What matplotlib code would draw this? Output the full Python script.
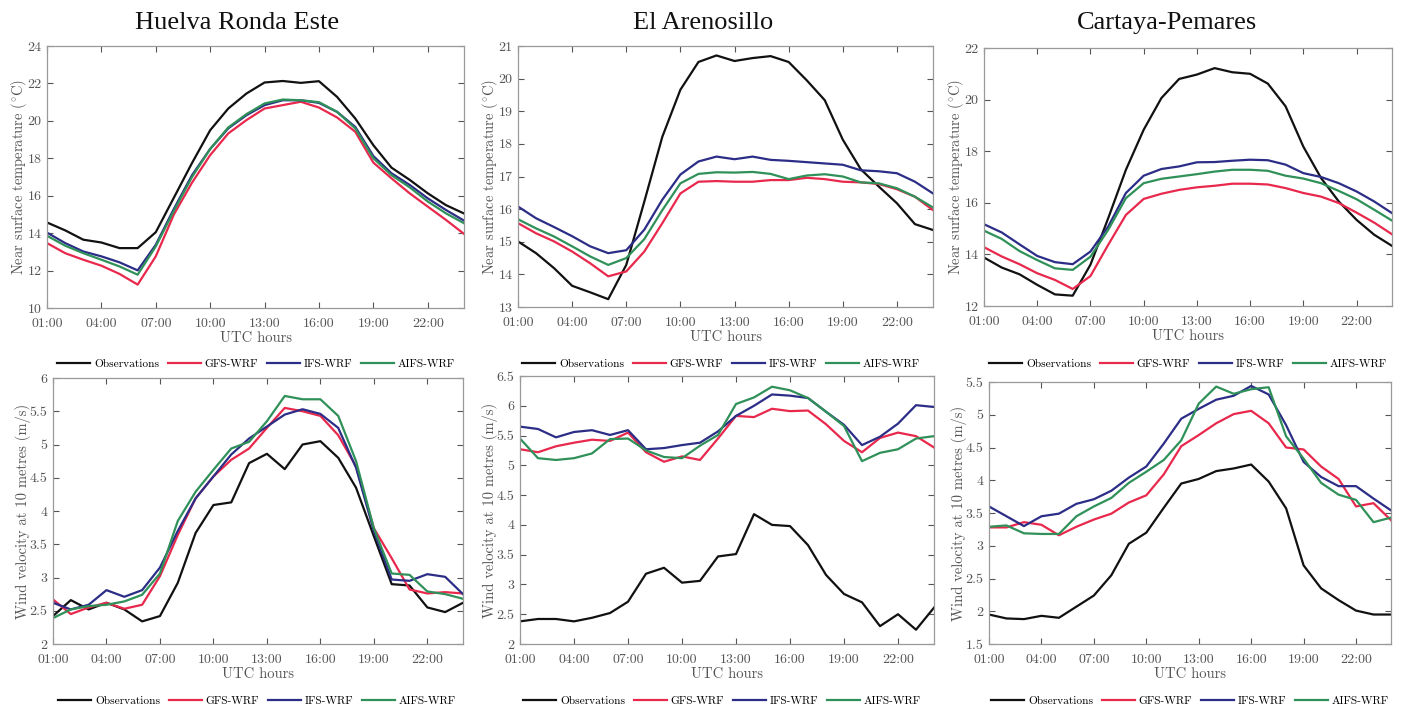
import matplotlib
matplotlib.use("Agg")
import matplotlib.pyplot as plt

plt.rcParams["font.family"] = "serif"
plt.rcParams["font.serif"] = ["cmr10"]
plt.rcParams["mathtext.fontset"] = "cm"
plt.rcParams["axes.formatter.use_mathtext"] = True

hours = list(range(1, 25))
xticks = [1, 4, 7, 10, 13, 16, 19, 22]
xticklabels = ["01:00", "04:00", "07:00", "10:00", "13:00", "16:00", "19:00", "22:00"]

stations = ["Huelva Ronda Este", "El Arenosillo", "Cartaya-Pemares"]
series_names = ["Observations", "GFS-WRF", "IFS-WRF", "AIFS-WRF"]

# near-surface temperature (degC), hourly 01:00-24:00
huelva_t_obs = [14.57, 14.15, 13.65, 13.5, 13.2, 13.2, 14.05, 15.9, 17.75, 19.5, 20.66, 21.46,
                22.05, 22.13, 22.03, 22.12, 21.28, 20.13, 18.7, 17.5, 16.85, 16.13, 15.5, 15.05]
huelva_t_gfs = [13.47, 12.93, 12.58, 12.26, 11.82, 11.25, 12.76, 15.0, 16.7, 18.17, 19.33, 20.04,
                20.66, 20.84, 21.02, 20.71, 20.18, 19.42, 17.77, 16.93, 16.13, 15.42, 14.71, 13.96]
huelva_t_ifs = [14.03, 13.47, 13.02, 12.76, 12.44, 12.01, 13.38, 15.3, 17.1, 18.5, 19.6, 20.3,
                20.84, 21.1, 21.1, 20.96, 20.48, 19.68, 18.12, 17.2, 16.58, 15.86, 15.24, 14.67]
huelva_t_aifs = [13.86, 13.33, 12.93, 12.58, 12.22, 11.78, 13.29, 15.2, 17.0, 18.5, 19.65, 20.36,
                 20.93, 21.14, 21.1, 21.0, 20.48, 19.6, 18.0, 17.1, 16.45, 15.69, 15.06, 14.53]

arenosillo_t_obs = [15.01, 14.65, 14.19, 13.65, 13.45, 13.24, 14.29, 16.23, 18.22, 19.66, 20.51, 20.71,
                    20.54, 20.63, 20.69, 20.51, 19.95, 19.34, 18.13, 17.22, 16.69, 16.18, 15.54, 15.36]
arenosillo_t_gfs = [15.57, 15.26, 15.01, 14.7, 14.34, 13.94, 14.09, 14.7, 15.57, 16.48, 16.84, 16.86,
                    16.84, 16.84, 16.89, 16.89, 16.96, 16.92, 16.84, 16.82, 16.77, 16.61, 16.38, 15.97]
arenosillo_t_ifs = [16.08, 15.72, 15.45, 15.17, 14.86, 14.65, 14.74, 15.37, 16.29, 17.06, 17.46, 17.61,
                    17.53, 17.61, 17.51, 17.48, 17.44, 17.4, 17.36, 17.19, 17.16, 17.1, 16.84, 16.48]
arenosillo_t_aifs = [15.69, 15.41, 15.16, 14.86, 14.55, 14.29, 14.5, 15.08, 15.97, 16.79, 17.08, 17.13,
                     17.12, 17.14, 17.08, 16.92, 17.03, 17.07, 17.0, 16.82, 16.79, 16.64, 16.38, 16.05]

cartaya_t_obs = [13.88, 13.49, 13.23, 12.82, 12.45, 12.4, 13.6, 15.4, 17.28, 18.83, 20.06, 20.8,
                 20.97, 21.22, 21.06, 21.0, 20.62, 19.74, 18.18, 16.96, 16.05, 15.34, 14.76, 14.33]
cartaya_t_gfs = [14.28, 13.92, 13.62, 13.27, 13.01, 12.66, 13.16, 14.37, 15.53, 16.15, 16.35, 16.5,
                 16.6, 16.66, 16.74, 16.74, 16.71, 16.57, 16.38, 16.24, 15.99, 15.62, 15.23, 14.78]
cartaya_t_ifs = [15.17, 14.85, 14.39, 13.94, 13.7, 13.62, 14.11, 15.08, 16.38, 17.05, 17.31, 17.41,
                 17.57, 17.58, 17.63, 17.67, 17.65, 17.48, 17.15, 17.0, 16.76, 16.44, 16.05, 15.6]
cartaya_t_aifs = [14.92, 14.6, 14.13, 13.78, 13.46, 13.4, 13.91, 14.95, 16.18, 16.76, 16.93, 17.02,
                  17.11, 17.21, 17.28, 17.28, 17.24, 17.05, 16.94, 16.76, 16.46, 16.14, 15.73, 15.31]

# 10 m wind speed (m/s)
huelva_w_obs = [2.42, 2.66, 2.52, 2.62, 2.52, 2.34, 2.42, 2.92, 3.67, 4.09, 4.13, 4.72,
                4.86, 4.63, 5.0, 5.05, 4.8, 4.35, 3.62, 2.9, 2.88, 2.55, 2.48, 2.62]
huelva_w_gfs = [2.67, 2.45, 2.55, 2.62, 2.53, 2.59, 3.02, 3.64, 4.19, 4.52, 4.77, 4.94,
                5.25, 5.55, 5.5, 5.43, 5.14, 4.67, 3.74, 3.29, 2.82, 2.76, 2.78, 2.76]
huelva_w_ifs = [2.62, 2.52, 2.59, 2.81, 2.71, 2.81, 3.15, 3.7, 4.19, 4.52, 4.85, 5.09,
                5.27, 5.45, 5.53, 5.46, 5.25, 4.65, 3.7, 2.97, 2.95, 3.05, 3.01, 2.75]
huelva_w_aifs = [2.39, 2.52, 2.57, 2.59, 2.64, 2.74, 3.06, 3.85, 4.29, 4.62, 4.94, 5.04,
                 5.35, 5.73, 5.68, 5.68, 5.43, 4.75, 3.74, 3.06, 3.04, 2.79, 2.75, 2.68]

arenosillo_w_obs = [2.38, 2.42, 2.42, 2.38, 2.44, 2.52, 2.71, 3.18, 3.28, 3.03, 3.06, 3.47,
                    3.51, 4.18, 4.0, 3.98, 3.66, 3.16, 2.84, 2.7, 2.3, 2.5, 2.24, 2.61]
arenosillo_w_gfs = [5.27, 5.22, 5.32, 5.38, 5.43, 5.41, 5.55, 5.22, 5.06, 5.15, 5.09, 5.45,
                    5.83, 5.81, 5.95, 5.91, 5.92, 5.69, 5.41, 5.22, 5.46, 5.55, 5.49, 5.3]
arenosillo_w_ifs = [5.65, 5.61, 5.47, 5.56, 5.59, 5.51, 5.59, 5.27, 5.29, 5.34, 5.38, 5.57,
                    5.83, 6.0, 6.19, 6.17, 6.13, 5.9, 5.68, 5.34, 5.48, 5.7, 6.01, 5.98]
arenosillo_w_aifs = [5.45, 5.12, 5.09, 5.12, 5.2, 5.44, 5.45, 5.25, 5.14, 5.12, 5.33, 5.51,
                     6.03, 6.14, 6.32, 6.26, 6.13, 5.9, 5.66, 5.07, 5.21, 5.27, 5.45, 5.49]

cartaya_w_obs = [1.95, 1.89, 1.88, 1.93, 1.9, 2.07, 2.24, 2.55, 3.03, 3.2, 3.58, 3.95,
                 4.02, 4.14, 4.18, 4.24, 3.98, 3.57, 2.7, 2.35, 2.17, 2.01, 1.95, 1.95]
cartaya_w_gfs = [3.28, 3.28, 3.36, 3.32, 3.16, 3.29, 3.4, 3.49, 3.66, 3.77, 4.09, 4.52,
                 4.69, 4.87, 5.01, 5.06, 4.87, 4.5, 4.47, 4.21, 4.02, 3.6, 3.65, 3.39]
cartaya_w_ifs = [3.6, 3.45, 3.3, 3.45, 3.49, 3.64, 3.71, 3.84, 4.04, 4.21, 4.56, 4.94,
                 5.09, 5.23, 5.29, 5.44, 5.31, 4.84, 4.28, 4.05, 3.91, 3.91, 3.72, 3.54]
cartaya_w_aifs = [3.29, 3.31, 3.19, 3.18, 3.18, 3.45, 3.6, 3.73, 3.96, 4.13, 4.31, 4.61,
                  5.17, 5.43, 5.32, 5.39, 5.42, 4.67, 4.33, 3.96, 3.78, 3.7, 3.36, 3.43]

temp_data = [
    [huelva_t_obs, huelva_t_gfs, huelva_t_ifs, huelva_t_aifs],
    [arenosillo_t_obs, arenosillo_t_gfs, arenosillo_t_ifs, arenosillo_t_aifs],
    [cartaya_t_obs, cartaya_t_gfs, cartaya_t_ifs, cartaya_t_aifs],
]
wind_data = [
    [huelva_w_obs, huelva_w_gfs, huelva_w_ifs, huelva_w_aifs],
    [arenosillo_w_obs, arenosillo_w_gfs, arenosillo_w_ifs, arenosillo_w_aifs],
    [cartaya_w_obs, cartaya_w_gfs, cartaya_w_ifs, cartaya_w_aifs],
]
temp_ylim = [(10, 24, 2), (13, 21, 1), (12, 22, 2)]
wind_ylim = [(2, 6, 0.5), (2, 6.5, 0.5), (1.5, 5.5, 0.5)]

colors = ["#111111", "#e8284c", "#2b2d86", "#2f9159"]
grey = "#555555"

W, H = 1403, 710
fig = plt.figure(figsize=(W / 100, H / 100), dpi=100)


def px_axes(l, r, t, b):
    return fig.add_axes([l / W, 1 - b / H, (r - l) / W, (b - t) / H])


def style(ax, lims, ylabel):
    lo, hi, step = lims
    ax.set_xlim(1, 24)
    ax.set_ylim(lo, hi)
    ax.set_xticks(xticks)
    ax.set_xticklabels(xticklabels)
    yt = []
    v = lo
    while v <= hi + 1e-9:
        yt.append(round(v, 2))
        v += step
    ax.set_yticks(yt)
    ax.set_yticklabels(["%g" % t for t in yt])
    ax.tick_params(direction="in", top=True, right=True, length=4, width=0.8,
                   colors=grey, labelsize=10, pad=4)
    ax.tick_params(axis="x", pad=7)
    for s in ax.spines.values():
        s.set_color("#999999")
        s.set_linewidth(0.9)
    ax.set_xlabel("UTC hours", fontsize=10.5, color=grey, labelpad=1)
    ax.set_ylabel(ylabel, fontsize=10.5, color=grey, labelpad=-1)


def add_legend(ax, cx, cy):
    ax.legend(loc="center", bbox_to_anchor=(cx / W, 1 - cy / H),
              bbox_transform=fig.transFigure, ncol=4, frameon=False, fontsize=8.2,
              handlelength=2.9, handletextpad=0.35, columnspacing=0.75,
              borderpad=0.2)


top_boxes = [(47, 464, 46, 308), (518, 933, 46, 307), (984, 1392, 48, 306)]
bot_boxes = [(53, 463, 378, 644), (520, 934, 376, 644), (989, 1391, 382, 644)]
title_x = [237, 703, 1167]
top_legend_x = [256, 721, 1188]
bot_legend_x = [257, 722, 1190]

for i in range(3):
    fig.text(title_x[i] / W, 1 - 23 / H, stations[i], ha="center", va="center",
             fontsize=19, family="Liberation Serif", color="#111111")

    ax = px_axes(*top_boxes[i])
    for k in range(4):
        ax.plot(hours, temp_data[i][k], color=colors[k], lw=1.6, label=series_names[k])
    style(ax, temp_ylim[i], r"Near surface temperature ($^{\circ}$C)")
    add_legend(ax, top_legend_x[i], 364)

    ax = px_axes(*bot_boxes[i])
    for k in range(4):
        ax.plot(hours, wind_data[i][k], color=colors[k], lw=1.6, label=series_names[k])
    style(ax, wind_ylim[i], "Wind velocity at 10 metres (m/s)")
    add_legend(ax, bot_legend_x[i], 701)

fig.savefig("out.png", dpi=100)
